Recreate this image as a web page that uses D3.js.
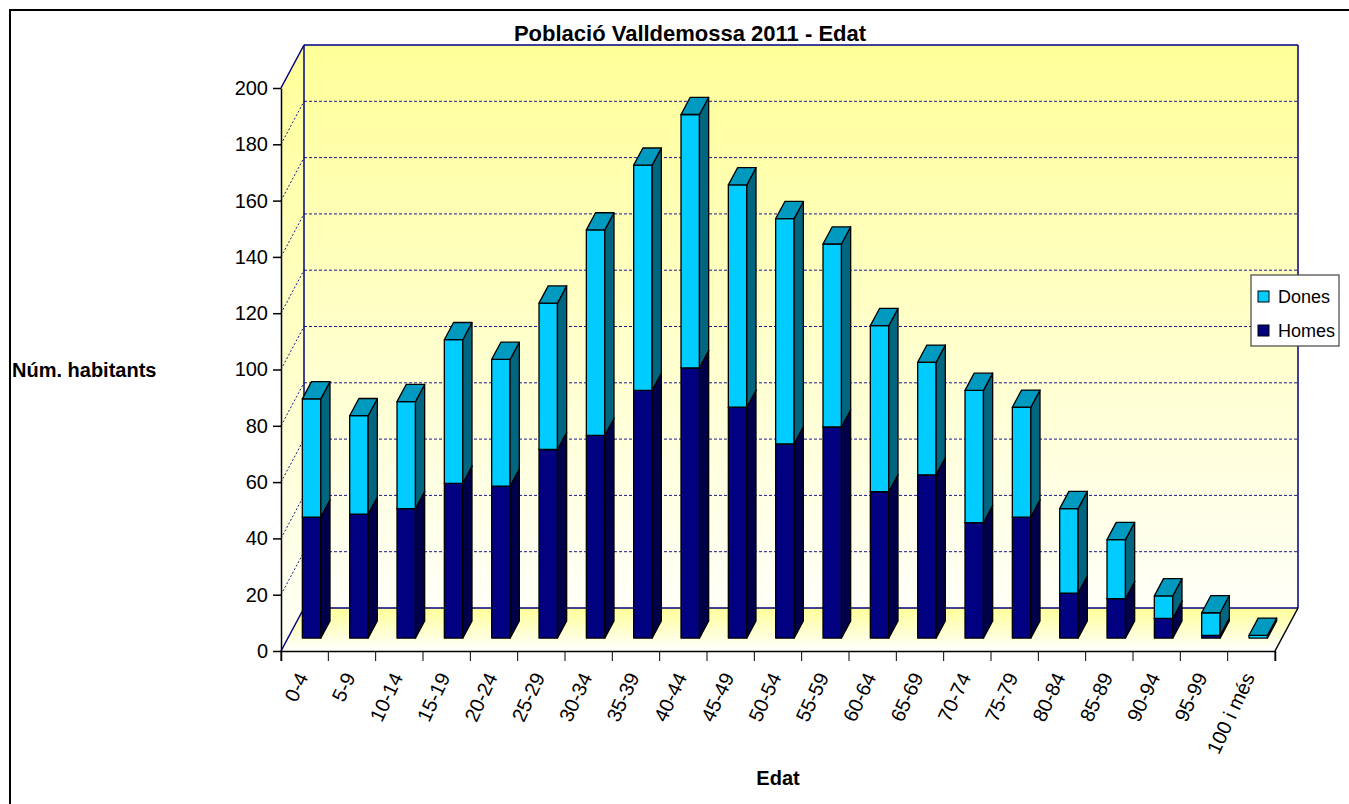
<!DOCTYPE html>
<html>
<head>
<meta charset="utf-8">
<script src="https://cdn.jsdelivr.net/npm/d3@7"></script>
<style>
    body { margin: 0; background: #fff; }
    svg { display: block; font-family: Arial, "Liberation Sans", sans-serif; }
</style>
</head>
<body>
<svg id="chart" width="1349" height="804"></svg>
<script>
const ageGroups = ["0-4", "5-9", "10-14", "15-19", "20-24", "25-29", "30-34", "35-39", "40-44", "45-49",
    "50-54", "55-59", "60-64", "65-69", "70-74", "75-79", "80-84", "85-89", "90-94", "95-99", "100 i més"];
const homes = [43, 44, 46, 55, 54, 67, 72, 88, 96, 82, 69, 75, 52, 58, 41, 43, 16, 14, 7, 1, 0];
const dones = [42, 35, 38, 51, 45, 52, 73, 80, 90, 79, 80, 65, 59, 40, 47, 39, 30, 21, 8, 8, 1];
const yTicks = [0, 20, 40, 60, 80, 100, 120, 140, 160, 180, 200];
const seriesNames = ["Dones", "Homes"];

const svg = d3.select("#chart");

const plot = {left: 281, right: 1275, top: 88, bottom: 651};
const depth = {dx: 23, dy: -43};
const barFront = 0.3;   // bars start at 30% of the depth
const barDepth = 0.4;   // and take 40% of it

const x = d3.scaleBand().domain(ageGroups).range([plot.left, plot.right]);
const y = d3.scaleLinear().domain([0, 200]).range([plot.bottom, plot.top]);

const colors = {
    Homes: {front: "#000080", side: "#00004a", top: "#000066"},
    Dones: {front: "#00ccff", side: "#006680", top: "#0099bf"}
};

// outer frame
svg.append("rect")
    .attr("x", 10).attr("y", 10)
    .attr("width", 1360).attr("height", 820)
    .attr("fill", "#fff")
    .attr("stroke", "#000")
    .attr("stroke-width", 2);

const defs = svg.append("defs");
const wallGrad = defs.append("linearGradient")
    .attr("id", "wall").attr("x1", 0).attr("y1", 0).attr("x2", 0).attr("y2", 1);
wallGrad.append("stop").attr("offset", "0%").attr("stop-color", "#ffff99");
wallGrad.append("stop").attr("offset", "100%").attr("stop-color", "#fffff8");

const floorGrad = defs.append("linearGradient")
    .attr("id", "floor").attr("x1", 0).attr("y1", 0).attr("x2", 0).attr("y2", 1);
floorGrad.append("stop").attr("offset", "0%").attr("stop-color", "#ffff99");
floorGrad.append("stop").attr("offset", "100%").attr("stop-color", "#ffffff");

const pts = arr => arr.map(p => p.join(",")).join(" ");
const back = (px, py) => [px + depth.dx, py + depth.dy];

// back wall, side wall, floor
svg.append("polygon")
    .attr("points", pts([back(plot.left, plot.top), back(plot.right, plot.top),
        back(plot.right, plot.bottom), back(plot.left, plot.bottom)]))
    .attr("fill", "url(#wall)");
svg.append("polygon")
    .attr("points", pts([[plot.left, plot.top], back(plot.left, plot.top),
        back(plot.left, plot.bottom), [plot.left, plot.bottom]]))
    .attr("fill", "url(#wall)");
svg.append("polygon")
    .attr("points", pts([[plot.left, plot.bottom], [plot.right, plot.bottom],
        back(plot.right, plot.bottom), back(plot.left, plot.bottom)]))
    .attr("fill", "url(#floor)");

// gridlines on the back wall and the side wall
const gridVals = yTicks.filter(v => v > 0 && v < 200);
svg.append("g").selectAll("line")
    .data(gridVals)
    .join("line")
    .attr("x1", plot.left + depth.dx).attr("x2", plot.right + depth.dx)
    .attr("y1", d => y(d) + depth.dy).attr("y2", d => y(d) + depth.dy)
    .attr("stroke", "#1a1a8c").attr("stroke-dasharray", "3,2");
svg.append("g").selectAll("line")
    .data(gridVals)
    .join("line")
    .attr("x1", plot.left).attr("x2", plot.left + depth.dx)
    .attr("y1", d => y(d)).attr("y2", d => y(d) + depth.dy)
    .attr("stroke", "#1a1a8c").attr("stroke-dasharray", "2,2");

// wall edges
const edge = (a, b, color) => svg.append("line")
    .attr("x1", a[0]).attr("y1", a[1]).attr("x2", b[0]).attr("y2", b[1])
    .attr("stroke", color).attr("stroke-width", 1.5);
edge([plot.left, plot.top], back(plot.left, plot.top), "#000080");
edge(back(plot.left, plot.top), back(plot.right, plot.top), "#000080");
edge(back(plot.right, plot.top), back(plot.right, plot.bottom), "#000080");
edge(back(plot.left, plot.top), back(plot.left, plot.bottom), "#000080");
edge(back(plot.left, plot.bottom), back(plot.right, plot.bottom), "#000080");
edge([plot.left, plot.bottom], back(plot.left, plot.bottom), "#000080");
edge([plot.right, plot.bottom], back(plot.right, plot.bottom), "#000");

// stacked 3D bars
const table = ageGroups.map((g, i) => ({group: g, Homes: homes[i], Dones: dones[i]}));
const stacked = d3.stack().keys(["Homes", "Dones"])(table);

const barW = x.bandwidth() * 0.39;
const fx = depth.dx * barFront, fy = depth.dy * barFront;
const sx = depth.dx * barDepth, sy = depth.dy * barDepth;

const barsG = svg.append("g");
table.forEach((row, i) => {
    stacked.forEach(layer => {
        const [v0, v1] = layer[i];
        if (v1 - v0 <= 0) return;
        const c = colors[layer.key];
        const x0 = x(row.group) + (x.bandwidth() - barW) / 2 + fx;
        const x1 = x0 + barW;
        const yt = y(v1) + fy;
        const yb = y(v0) + fy;
        const g = barsG.append("g")
            .attr("stroke", "#000")
            .attr("stroke-width", 1.3)
            .attr("stroke-linejoin", "round");
        g.append("rect")
            .attr("x", x0).attr("y", yt)
            .attr("width", barW).attr("height", yb - yt)
            .attr("fill", c.front);
        g.append("polygon")
            .attr("points", pts([[x1, yt], [x1 + sx, yt + sy], [x1 + sx, yb + sy], [x1, yb]]))
            .attr("fill", c.side);
        g.append("polygon")
            .attr("points", pts([[x0, yt], [x1, yt], [x1 + sx, yt + sy], [x0 + sx, yt + sy]]))
            .attr("fill", c.top);
    });
});

// y axis
const yAxis = svg.append("g")
    .attr("transform", `translate(${plot.left},0)`)
    .call(d3.axisLeft(y).tickValues(yTicks).tickSize(8).tickPadding(5).tickSizeOuter(0));
yAxis.select(".domain").attr("stroke", "#000").attr("stroke-width", 1.5);
yAxis.selectAll(".tick line").attr("stroke", "#000").attr("stroke-width", 1.5);
yAxis.selectAll(".tick text")
    .attr("font-size", 20)
    .attr("font-family", "Arial, 'Liberation Sans', sans-serif")
    .attr("fill", "#000");

// x axis (front floor edge)
const xAxis = svg.append("g")
    .attr("transform", `translate(0,${plot.bottom})`)
    .call(d3.axisBottom(x).tickSize(10).tickSizeOuter(10).tickFormat(""));
xAxis.select(".domain").attr("stroke", "#000").attr("stroke-width", 1.5);
xAxis.selectAll(".tick line")
    .attr("transform", `translate(${-x.bandwidth() / 2},0)`)
    .attr("stroke", "#000");
xAxis.append("line")
    .attr("x1", plot.right).attr("x2", plot.right)
    .attr("y1", 0).attr("y2", 10).attr("stroke", "#000");

svg.append("g").selectAll("text")
    .data(ageGroups)
    .join("text")
    .attr("transform", d => `translate(${x(d) + x.bandwidth() / 2 + 4},677) rotate(-65)`)
    .attr("text-anchor", "end")
    .attr("font-size", 20)
    .text(d => d);

// titles
svg.append("text")
    .attr("x", 690).attr("y", 41)
    .attr("text-anchor", "middle")
    .attr("font-size", 22)
    .attr("font-weight", "bold")
    .text("Població Valldemossa 2011 - Edat");
svg.append("text")
    .attr("x", 12).attr("y", 377)
    .attr("font-size", 20)
    .attr("font-weight", "bold")
    .text("Núm. habitants");
svg.append("text")
    .attr("x", 778).attr("y", 785)
    .attr("text-anchor", "middle")
    .attr("font-size", 20)
    .attr("font-weight", "bold")
    .text("Edat");

// legend
const legend = svg.append("g").attr("transform", "translate(1251,275)");
legend.append("rect")
    .attr("width", 88).attr("height", 71)
    .attr("fill", "#fff").attr("stroke", "#444").attr("stroke-width", 1.2);
seriesNames.forEach((name, i) => {
    legend.append("rect")
        .attr("x", 7).attr("y", 16 + i * 34)
        .attr("width", 11).attr("height", 11)
        .attr("fill", colors[name].front)
        .attr("stroke", "#000");
    legend.append("text")
        .attr("x", 27).attr("y", 28 + i * 34)
        .attr("font-size", 18)
        .text(name);
});
</script>
</body>
</html>
